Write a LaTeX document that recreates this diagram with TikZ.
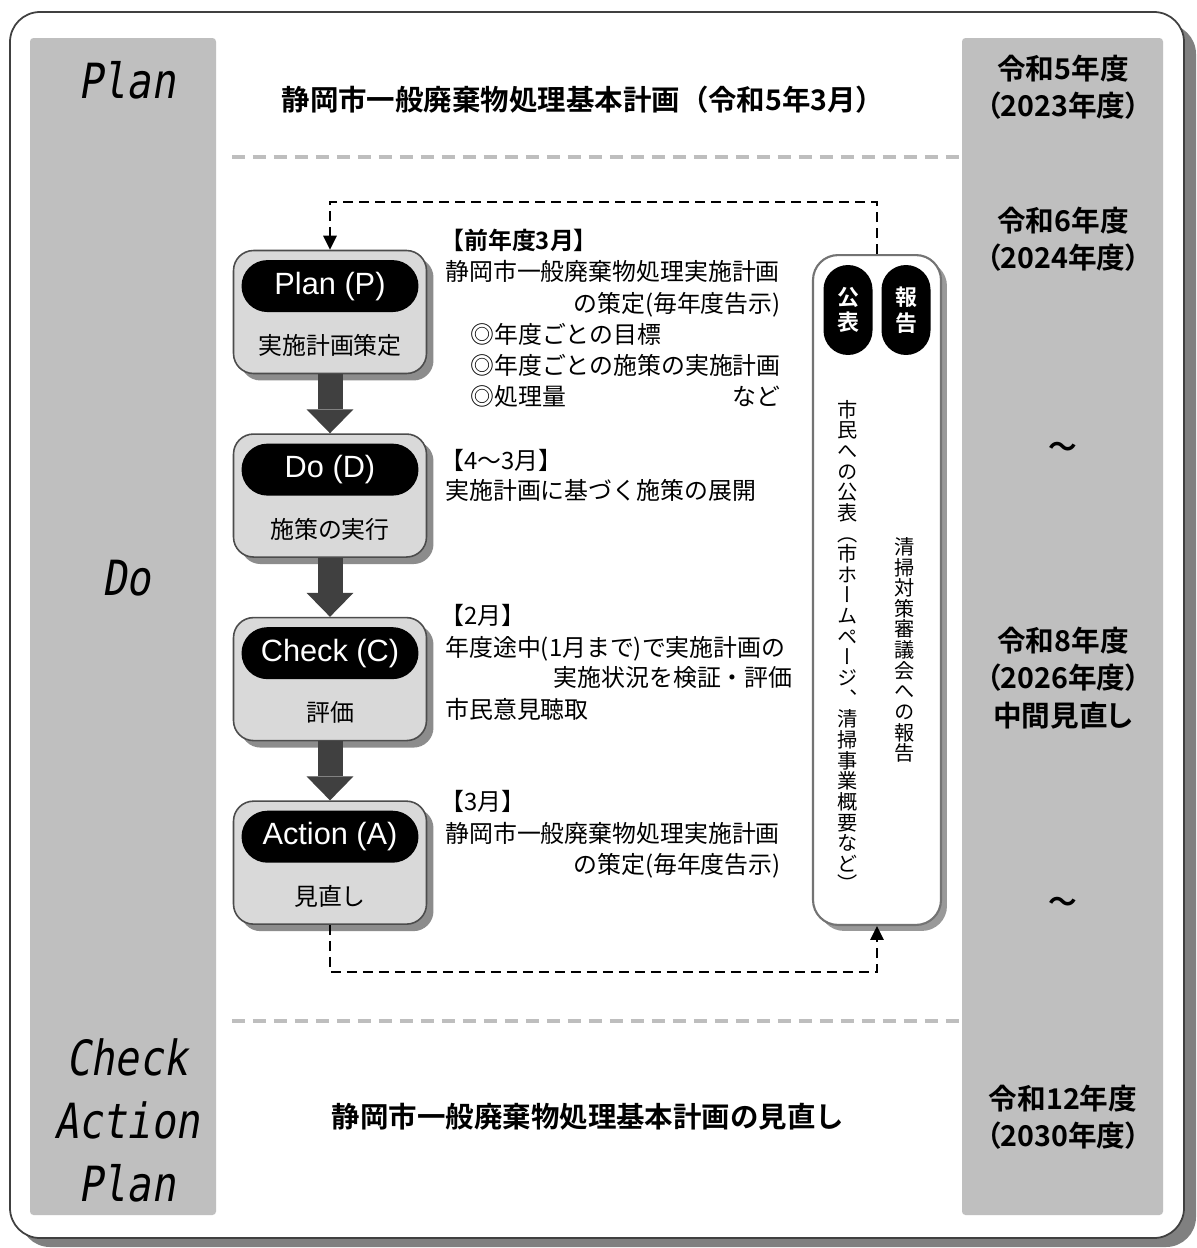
\documentclass[tikz,border=0pt]{standalone}
\usepackage{fontspec}
\usepackage{graphicx}
\usepackage{xcolor}
\usepackage{tikz}
\usetikzlibrary{arrows.meta, positioning, calc, shadows}
\setmainfont{Noto Sans CJK JP}[BoldFont={Noto Sans CJK JP Bold}]
\newfontfamily\yearfont{Noto Sans CJK JP Bold}[RawFeature=+palt]
\newfontfamily\vertfont{Noto Sans CJK JP}[RawFeature=+vert]
\newfontfamily\tagfont{Liberation Sans}
\newfontfamily\phasefont{DejaVu Sans Mono}[FakeSlant=0.2]
\definecolor{bandgray}{RGB}{191, 191, 191}
\definecolor{boxgray}{RGB}{217, 217, 217}
\definecolor{arrowgray}{RGB}{64, 64, 64}
\definecolor{sepgray}{RGB}{190, 190, 190}
\definecolor{framegray}{RGB}{128, 128, 128}

\begin{document}
\begin{tikzpicture}[
    x=0.02cm, y=-0.02cm,
    phaselabel/.style={font=\phasefont\fontsize{23}{26}\selectfont, inner sep=0pt},
    titletext/.style={font=\bfseries\fontsize{16.2}{20}\selectfont, inner sep=0pt},
    yeartext/.style={font=\yearfont\fontsize{16.3}{21.3}\selectfont, align=center, inner sep=0pt},
    stepbox/.style={
        rectangle, draw=black!70, fill=boxgray, line width=0.9pt,
        minimum width=3.86cm, minimum height=2.46cm, rounded corners=0.4cm,
        drop shadow={shadow xshift=0.14cm, shadow yshift=-0.14cm, fill=black!45, opacity=1}
    },
    steptag/.style={
        rectangle, fill=black, text=white, rounded corners=0.52cm,
        minimum width=3.54cm, minimum height=1.04cm, inner sep=0pt,
        font=\tagfont\fontsize{17.5}{20}\selectfont
    },
    stepsub/.style={font=\fontsize{13.6}{16}\selectfont, inner sep=0pt,
        text height=0.88em, text depth=0.12em},
    remark/.style={font=\fontsize{13.6}{16}\selectfont, inner sep=0pt,
        text height=0.88em, text depth=0.12em},
    reportbox/.style={
        rectangle, draw=black!55, fill=white, line width=1.2pt,
        minimum width=2.56cm, minimum height=13.4cm, rounded corners=0.5cm,
        drop shadow={shadow xshift=0.12cm, shadow yshift=-0.12cm, fill=black!40, opacity=1}
    },
    reporttag/.style={
        rectangle, fill=black, text=white, rounded corners=0.49cm,
        minimum width=0.98cm, minimum height=1.8cm, inner sep=0pt, align=center,
        font=\bfseries\fontsize{12.5}{14.5}\selectfont
    },
    vtext/.style={font=\vertfont\fontsize{11.5}{11.75}\selectfont, inner sep=0pt, align=center},
    flowarrow/.style={draw=arrowgray, line width=0.5cm,
        -{Triangle[width=0.94cm, length=0.48cm, line width=0pt]}},
    loopline/.style={draw=black, line width=1.6pt, dash pattern=on 0.2cm off 0.12cm,
        -{Triangle[width=0.26cm, length=0.28cm]}},
    sepline/.style={draw=sepgray, line width=2.8pt, dash pattern=on 0.26cm off 0.16cm}
]
    \useasboundingbox (0,0) rectangle (1197,1248);

    % frame, side bands and separators
    \fill [framegray, rounded corners=0.6cm] (20,24) rectangle (1196,1247);
    \draw [black!75, line width=1pt, fill=white, rounded corners=0.6cm] (10,12) rectangle (1184,1238);
    \fill [bandgray, rounded corners=2pt] (30,38) rectangle (216,1215);
    \fill [bandgray, rounded corners=2pt] (962,38) rectangle (1163,1215);
    \draw [sepline] (232,157) -- (962,157);
    \draw [sepline] (232,1021) -- (962,1021);

    % left column
    \node [phaselabel] (phasePlan)   at (127,80)   {\scalebox{1}[1.2]{Plan}};
    \node [phaselabel] (phaseDo)     at (127,578)  {\scalebox{1}[1.2]{Do}};
    \node [phaselabel] (phaseCheck)  at (127,1057) {\scalebox{1}[1.2]{Check}};
    \node [phaselabel] (phaseAction) at (127,1120) {\scalebox{1}[1.2]{Action}};
    \node [phaselabel] (phasePlanB)  at (127,1183) {\scalebox{1}[1.2]{Plan}};

    % titles
    \node [titletext] (planTitle)   at (583,100)  {静岡市一般廃棄物処理基本計画（令和5年3月）};
    \node [titletext] (reviewTitle) at (588,1117) {静岡市一般廃棄物処理基本計画の見直し};

    % right column
    \node [yeartext] (year5)  at (1063,87)   {令和5年度\\（2023年度）};
    \node [yeartext] (year6)  at (1063,239)  {令和6年度\\（2024年度）};
    \node [yeartext] (tildeA) at (1063,450)  {～};
    \node [yeartext] (year8)  at (1063,678)  {令和8年度\\（2026年度）\\中間見直し};
    \node [yeartext] (tildeB) at (1063,905)  {～};
    \node [yeartext] (year12) at (1063,1117) {令和12年度\\（2030年度）};

    % PDCA steps
    \node [stepbox] (plan) at (330,312) {};
    \node [steptag, below=0.2cm of plan.north] (planTag) {Plan (P)};
    \node [stepsub, above=0.34cm of plan.south] (planSub) {実施計画策定};

    \node [stepbox, below=1.18cm of plan] (do) {};
    \node [steptag, below=0.2cm of do.north] (doTag) {Do (D)};
    \node [stepsub, above=0.34cm of do.south] (doSub) {施策の実行};

    \node [stepbox, below=1.18cm of do] (check) {};
    \node [steptag, below=0.2cm of check.north] (checkTag) {Check (C)};
    \node [stepsub, above=0.34cm of check.south] (checkSub) {評価};

    \node [stepbox, below=1.18cm of check] (act) {};
    \node [steptag, below=0.2cm of act.north] (actTag) {Action (A)};
    \node [stepsub, above=0.34cm of act.south] (actSub) {見直し};

    % notes beside the steps
    \node [remark, anchor=west, font=\bfseries\fontsize{13.6}{16}\selectfont] (planWhen) at (440,243) {【前年度3月】};
    \node [remark, anchor=west] (planL1) at (445,274) {静岡市一般廃棄物処理実施計画};
    \node [remark, anchor=east] (planL2) at (781,306) {の策定(毎年度告示)};
    \node [remark, anchor=west] (planL3) at (470,337) {◎年度ごとの目標};
    \node [remark, anchor=west] (planL4) at (470,368) {◎年度ごとの施策の実施計画};
    \node [remark, anchor=west] (planL5) at (470,399) {◎処理量};
    \node [remark, anchor=east] (planL6) at (781,399) {など};

    \node [remark, anchor=west] (doWhen) at (440,463) {【4～3月】};
    \node [remark, anchor=west] (doL1)   at (445,493) {実施計画に基づく施策の展開};

    \node [remark, anchor=west] (checkWhen) at (440,618) {【2月】};
    \node [remark, anchor=west] (checkL1)   at (445,650) {年度途中(1月まで)で実施計画の};
    \node [remark, anchor=east] (checkL2)   at (793,680) {実施状況を検証・評価};
    \node [remark, anchor=west] (checkL3)   at (445,712) {市民意見聴取};

    \node [remark, anchor=west] (actWhen) at (440,804) {【3月】};
    \node [remark, anchor=west] (actL1)   at (445,836) {静岡市一般廃棄物処理実施計画};
    \node [remark, anchor=east] (actL2)   at (781,867) {の策定(毎年度告示)};

    % publication / report box
    \node [reportbox] (report) at (877,590) {};
    \node [reporttag] (pubTag) at (848,310) {公\\表};
    \node [reporttag] (repTag) at (906,310) {報\\告};
    \node [vtext] (pubText) at (848,646) {市\\民\\へ\\の\\公\\表\\（\\市\\ホ\\ー\\ム\\ペ\\ー\\ジ\\、\\清\\掃\\事\\業\\概\\要\\な\\ど\\）};
    \node [vtext] (repText) at (905,650) {清\\掃\\対\\策\\審\\議\\会\\へ\\の\\報\\告};

    % connectors
    \coordinate (topTurn) at (600,202);
    \coordinate (lowTurn) at (600,972);
    \draw [flowarrow] (plan) -- (do);
    \draw [flowarrow] (do) -- (check);
    \draw [flowarrow] (check) -- (act);
    \draw [loopline] (act.south) |- (lowTurn) -| (report.south);
    \draw [loopline] (report.north) |- (topTurn) -| (plan.north);
\end{tikzpicture}
\end{document}
